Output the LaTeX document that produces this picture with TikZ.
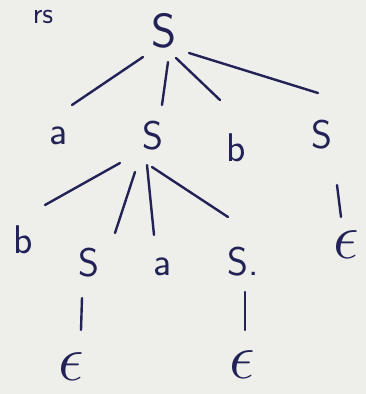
\documentclass[tikz,border=0pt]{standalone}
\usepackage{tikz}
\usepackage{graphicx}
\usepackage{xcolor}
\definecolor{ink}{RGB}{34,34,86}
\definecolor{paper}{RGB}{238,238,235}
\newcommand{\eps}{\scalebox{2.6}{$\epsilon$}}

\begin{document}
\begin{tikzpicture}[x=1pt,y=-1pt,
  sym/.style={ink,inner sep=0pt,font=\sffamily\fontsize{40}{40}\selectfont},
  ln/.style={ink,line width=2.4pt,line cap=round}]
\fill[paper] (0,0) rectangle (366,394);
\useasboundingbox (0,0) rectangle (366,394);
% top left fragment
\node[sym,font=\sffamily\fontsize{30}{30}\selectfont] (rs) at (43,17) {rs};
% root
\node[sym,font=\sffamily\fontsize{48}{48}\selectfont] (r) at (164,31) {S};
% first level
\node[sym] (a1) at (59,136) {a};
\node[sym] (s1) at (153,136) {S};
\node[sym] (b1) at (236,148) {b};
\node[sym] (s3) at (322,135) {S};
% second level
\node[sym] (b2) at (23,240) {b};
\node[sym] (s2) at (89,263) {S};
\node[sym] (a2) at (163,267) {a};
\node[sym] (s4) at (243,262) {S.};
\node[sym] (e3) at (346,245) {\eps};
% third level
\node[sym] (e1) at (71,367) {\eps};
\node[sym] (e2) at (242,365) {\eps};
% edges
\draw[ln] ([shift={(-21,26)}]r.center) -- ([shift={(13,-31)}]a1.center);
\draw[ln] ([shift={(4,31)}]r.center) -- ([shift={(9,-31)}]s1.center);
\draw[ln] ([shift={(12,27)}]r.center) -- ([shift={(-16,-48)}]b1.center);
\draw[ln] ([shift={(25,22)}]r.center) -- ([shift={(-4,-42)}]s3.center);
\draw[ln] ([shift={(-33,27)}]s1.center) -- ([shift={(22,-35)}]b2.center);
\draw[ln] ([shift={(-18,36)}]s1.center) -- ([shift={(26,-30)}]s2.center);
\draw[ln] ([shift={(-6,29)}]s1.center) -- ([shift={(-9,-32)}]a2.center);
\draw[ln] ([shift={(-1,31)}]s1.center) -- ([shift={(-15,-45)}]s4.center);
\draw[ln] ([shift={(15,50)}]s3.center) -- ([shift={(-5,-28)}]e3.center);
\draw[ln] ([shift={(-7,35)}]s2.center) -- ([shift={(10,-37)}]e1.center);
\draw[ln] ([shift={(2,30)}]s4.center) -- ([shift={(3,-35)}]e2.center);
\end{tikzpicture}
\end{document}
